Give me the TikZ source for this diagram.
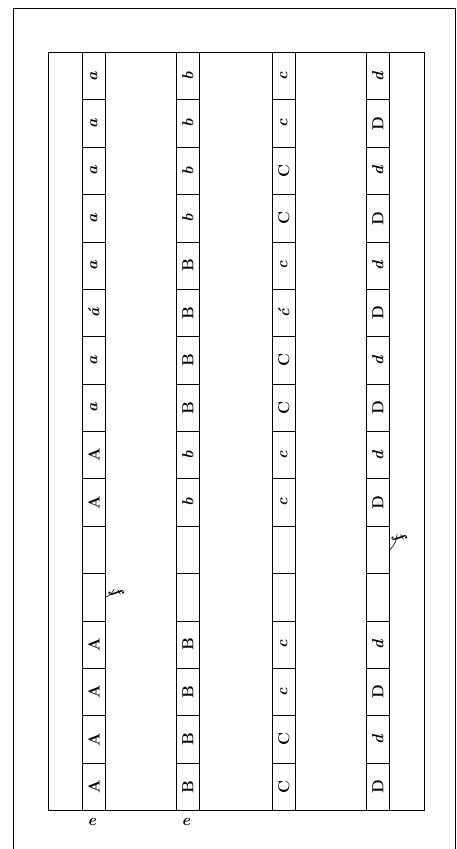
\documentclass[tikz,border=0pt]{standalone}
\begin{document}
\newcommand\lc[1]{\textit{#1}}
\newcommand\stripcells[3]{%
  \foreach \t [count=\i from 0] in {#3} {%
    \node[cell] (#1\i) at (#2, 52+47.375*\i) {\rotatebox{90}{\t}};%
  }%
}
\begin{tikzpicture}[x=1pt,y=-1pt,line width=0.8pt,
  cell/.style={draw, minimum width=23pt, minimum height=47.375pt, inner sep=0pt,
    anchor=north west, font=\fontsize{16}{18}\selectfont\bfseries},
  lab/.style={font=\fontsize{16}{18}\selectfont\bfseries\itshape, inner sep=0pt}]
\useasboundingbox (0,0) rectangle (457,849);
\fill[white] (0,0) rectangle (457,849);
% outer frame (open at the bottom)
\draw (13,849) -- (13,8) -- (455,8) -- (455,849);
% inner frame
\node[draw, minimum width=376pt, minimum height=758pt, inner sep=0pt, anchor=north west] (frame) at (48,52) {};
% strips
\stripcells{A}{82}{\lc{a},\lc{a},\lc{a},\lc{a},\lc{a},\lc{\'a},\lc{a},\lc{a},A,A,{},{},A,A,A,A}
\stripcells{B}{176}{\lc{b},\lc{b},\lc{b},\lc{b},B,B,B,B,\lc{b},\lc{b},{},{},B,B,B,B}
\stripcells{C}{272}{\lc{c},\lc{c},C,C,\lc{c},\lc{\'c},C,C,\lc{c},\lc{c},{},{},\lc{c},\lc{c},C,C}
\stripcells{D}{366}{\lc{d},D,\lc{d},D,\lc{d},D,\lc{d},D,\lc{d},D,{},{},\lc{d},D,\lc{d},D}
% labels
\node[lab] (e1) at (92,822) {e};
\node[lab] (e2) at (186,822) {e};
\node[lab, rotate=-60] (f1) at (116,592) {f};
\node[lab, rotate=-60] (f2) at (399,537) {f};
\draw[line width=0.6pt] (f1.west) to[bend left=20] (A11.east);
\draw[line width=0.6pt] (f2.west) to[bend left=20] (D10.east);
\end{tikzpicture}
\end{document}
